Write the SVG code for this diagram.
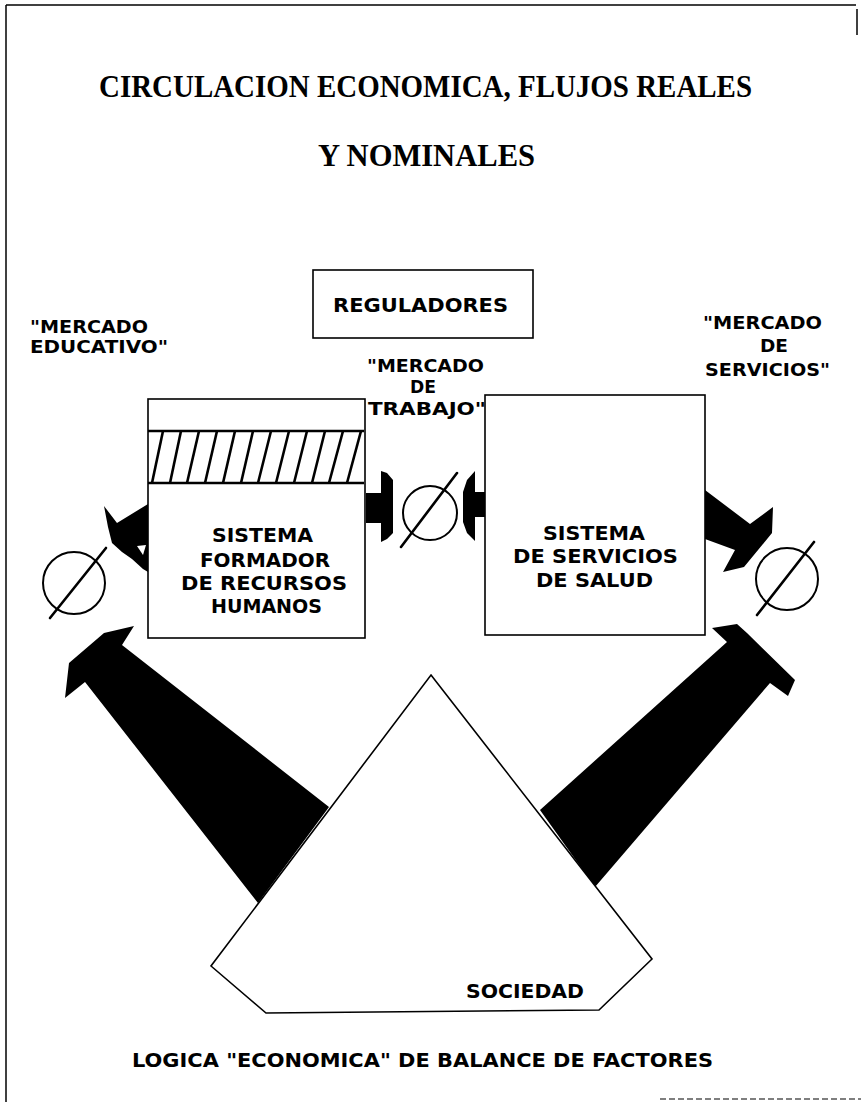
<svg xmlns="http://www.w3.org/2000/svg" width="861" height="1105" viewBox="0 0 861 1105">
<style>
.t{font-family:"DejaVu Sans","Liberation Sans",Arial,sans-serif;font-weight:bold;font-size:20px;fill:#000}
.s{font-size:18px}
.m{font-size:19px}
.ti{font-family:"Liberation Serif","Times New Roman",serif;font-weight:bold;font-size:32px;fill:#000}
.box{fill:#fff;stroke:#000;stroke-width:1.6}
.blk{fill:#000;stroke:none}
.circ{fill:none;stroke:#000;stroke-width:2}
.sl{stroke:#000;stroke-width:2.6;stroke-linecap:round}
.hatch{stroke:#000;stroke-width:2.6}
.frame{stroke:#000;stroke-width:1.5;fill:none}
</style>
<rect x="0" y="0" width="861" height="1105" fill="#fff"/>
<g id="frame">
<line class="frame" x1="6" y1="5" x2="856" y2="5"/>
<line class="frame" x1="6" y1="5" x2="6" y2="1102"/>
<line class="frame" x1="857" y1="9" x2="857" y2="35"/>
<line x1="660" y1="1099" x2="861" y2="1099" stroke="#000" stroke-width="1.2" stroke-dasharray="6 3"/>
</g>
<g id="title">
<text class="ti" x="99" y="97" textLength="653" lengthAdjust="spacingAndGlyphs">CIRCULACION ECONOMICA, FLUJOS REALES</text>
<text class="ti" x="318" y="166" textLength="217" lengthAdjust="spacingAndGlyphs">Y NOMINALES</text>
</g>
<g id="connectors">
<polygon class="blk" points="134,626 122,645 329,807 258,903 85,682 65,698 69,663 104,633"/>
<polygon class="blk" points="712,628 737,624 747,633 795,680 788,696 770,683 595,887 540,810 727,642"/>
<polygon class="blk" points="104,506 117,523 148,504 148,572 143,569 132,559 122,552 112,543 108,527"/>
<polygon fill="#fff" points="137,546 146,545 143,555"/>
<polygon class="blk" points="705,490 750,524 773,507 772,533 744,567 723,572 735,550 705,539"/>
<polygon class="blk" points="366,493 381,493 381,471 387,473 393,480 393,533 387,539 381,542 381,523 366,523"/>
<polygon class="blk" points="486,492 475,492 475,471 467,480 463,492 463,522 467,533 475,541 475,517 486,517"/>
</g>
<g id="reguladores">
<rect class="box" x="313" y="270" width="220" height="68"/>
<text class="t m" x="333" y="312" textLength="175" lengthAdjust="spacingAndGlyphs">REGULADORES</text>
</g>
<g id="mercado-educativo">
<text class="t s" x="30" y="333" textLength="118" lengthAdjust="spacingAndGlyphs">"MERCADO</text>
<text class="t s" x="30" y="353" textLength="138" lengthAdjust="spacingAndGlyphs">EDUCATIVO"</text>
</g>
<g id="mercado-servicios">
<text class="t s" x="703" y="329" textLength="119" lengthAdjust="spacingAndGlyphs">"MERCADO</text>
<text class="t s" x="760" y="352" textLength="28" lengthAdjust="spacingAndGlyphs">DE</text>
<text class="t s" x="705" y="376" textLength="125" lengthAdjust="spacingAndGlyphs">SERVICIOS"</text>
</g>
<g id="sistema-formador">
<rect class="box" x="148" y="399" width="217" height="239"/>
<line class="hatch" x1="148" y1="431" x2="364" y2="431" stroke-width="2"/>
<line class="hatch" x1="148" y1="483" x2="364" y2="483" stroke-width="2"/>
<g class="hatch">
<line x1="152" y1="483" x2="163" y2="431"/>
<line x1="170" y1="483" x2="181" y2="431"/>
<line x1="187" y1="483" x2="199" y2="431"/>
<line x1="205" y1="483" x2="217" y2="431"/>
<line x1="223" y1="483" x2="235" y2="431"/>
<line x1="241" y1="483" x2="253" y2="431"/>
<line x1="258" y1="483" x2="271" y2="431"/>
<line x1="276" y1="483" x2="289" y2="431"/>
<line x1="294" y1="483" x2="307" y2="431"/>
<line x1="312" y1="483" x2="325" y2="431"/>
<line x1="329" y1="483" x2="343" y2="431"/>
<line x1="347" y1="483" x2="361" y2="431"/>
</g>
<text class="t" x="212" y="542" textLength="101" lengthAdjust="spacingAndGlyphs">SISTEMA</text>
<text class="t" x="200" y="567" textLength="130" lengthAdjust="spacingAndGlyphs">FORMADOR</text>
<text class="t" x="181" y="590" textLength="166" lengthAdjust="spacingAndGlyphs">DE RECURSOS</text>
<text class="t" x="211" y="613" textLength="111" lengthAdjust="spacingAndGlyphs">HUMANOS</text>
</g>
<g id="mercado-trabajo">
<text class="t s" x="367" y="372" textLength="117" lengthAdjust="spacingAndGlyphs">"MERCADO</text>
<text class="t s" x="410" y="393" textLength="26" lengthAdjust="spacingAndGlyphs">DE</text>
<text class="t s" x="368" y="415" textLength="118" lengthAdjust="spacingAndGlyphs">TRABAJO"</text>
</g>
<g id="sistema-servicios">
<rect class="box" x="485" y="395" width="220" height="240"/>
<text class="t" x="543" y="540" textLength="102" lengthAdjust="spacingAndGlyphs">SISTEMA</text>
<text class="t" x="513" y="563" textLength="165" lengthAdjust="spacingAndGlyphs">DE SERVICIOS</text>
<text class="t" x="536" y="587" textLength="117" lengthAdjust="spacingAndGlyphs">DE SALUD</text>
</g>
<g id="balance-educativo">
<circle class="circ" cx="74" cy="583" r="31"/>
<line class="sl" x1="50" y1="618" x2="106" y2="548"/>
</g>
<g id="balance-trabajo">
<circle class="circ" cx="430" cy="513" r="27"/>
<line class="sl" x1="401" y1="547" x2="457" y2="473"/>
</g>
<g id="balance-servicios">
<circle class="circ" cx="787" cy="579" r="31"/>
<line class="sl" x1="757" y1="615" x2="814" y2="542"/>
</g>
<g id="sociedad">
<polygon class="box" points="431,675 652,959 599,1010 266,1013 211,966"/>
<text class="t m" x="466" y="998" textLength="118" lengthAdjust="spacingAndGlyphs">SOCIEDAD</text>
</g>
<g id="footer">
<text class="t m" x="132" y="1067" textLength="581" lengthAdjust="spacingAndGlyphs">LOGICA "ECONOMICA" DE BALANCE DE FACTORES</text>
</g>
</svg>
